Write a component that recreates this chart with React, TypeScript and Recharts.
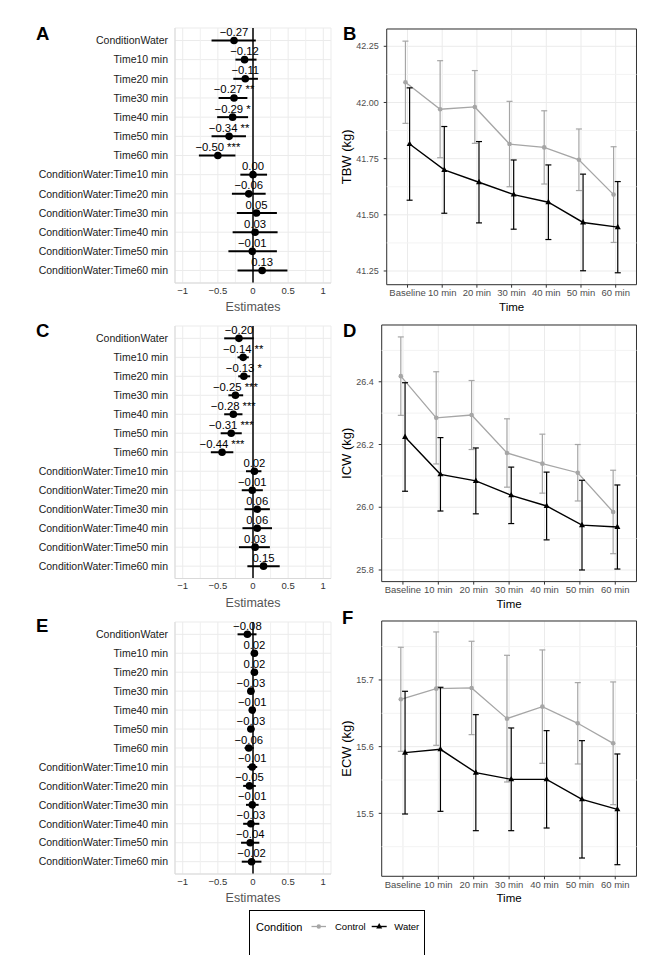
import React from "react";
import {
  ScatterChart,
  Scatter,
  LineChart,
  Line,
  XAxis,
  YAxis,
  CartesianGrid,
  ReferenceLine,
  ReferenceArea,
  ErrorBar,
  Label,
} from "recharts";

// model terms (forest plots A, C, E)
const terms = [
  "ConditionWater",
  "Time10 min",
  "Time20 min",
  "Time30 min",
  "Time40 min",
  "Time50 min",
  "Time60 min",
  "ConditionWater:Time10 min",
  "ConditionWater:Time20 min",
  "ConditionWater:Time30 min",
  "ConditionWater:Time40 min",
  "ConditionWater:Time50 min",
  "ConditionWater:Time60 min",
];

// A - TBW estimates
const tbwEst = [-0.27, -0.12, -0.11, -0.27, -0.29, -0.34, -0.5, 0.0, -0.06, 0.05, 0.03, -0.01, 0.13];
const tbwLow = [-0.59, -0.25, -0.28, -0.49, -0.51, -0.59, -0.77, -0.18, -0.3, -0.23, -0.29, -0.35, -0.22];
const tbwHigh = [0.04, 0.05, 0.07, -0.08, -0.07, -0.1, -0.25, 0.2, 0.18, 0.34, 0.35, 0.34, 0.49];
const tbwSig = ["", "", "", "**", "*", "**", "***", "", "", "", "", "", ""];

// C - ICW estimates
const icwEst = [-0.2, -0.14, -0.13, -0.25, -0.28, -0.31, -0.44, 0.02, -0.01, 0.06, 0.06, 0.03, 0.15];
const icwLow = [-0.41, -0.22, -0.21, -0.35, -0.41, -0.46, -0.6, -0.1, -0.16, -0.12, -0.15, -0.2, -0.08];
const icwHigh = [0.01, -0.06, -0.04, -0.14, -0.15, -0.16, -0.28, 0.12, 0.14, 0.24, 0.27, 0.24, 0.38];
const icwSig = ["", "**", "*", "***", "***", "***", "***", "", "", "", "", "", ""];

// E - ECW estimates
const ecwEst = [-0.08, 0.02, 0.02, -0.03, -0.01, -0.03, -0.06, -0.01, -0.05, -0.01, -0.03, -0.04, -0.02];
const ecwLow = [-0.22, -0.03, -0.03, -0.08, -0.06, -0.08, -0.12, -0.08, -0.14, -0.1, -0.14, -0.17, -0.16];
const ecwHigh = [0.05, 0.06, 0.07, 0.02, 0.04, 0.02, 0.01, 0.06, 0.04, 0.08, 0.09, 0.09, 0.12];
const ecwSig = ["", "", "", "", "", "", "", "", "", "", "", "", ""];

// time course (B, D, F)
const timeLabels = ["Baseline", "10 min", "20 min", "30 min", "40 min", "50 min", "60 min"];
const conditions = ["Control", "Water"];

const ctrlTBW = [42.09, 41.97, 41.98, 41.815, 41.8, 41.745, 41.59];
const ctrlTBWErr = [0.183, 0.216, 0.162, 0.19, 0.163, 0.137, 0.213];
const waterTBW = [41.815, 41.7, 41.645, 41.59, 41.556, 41.466, 41.445];
const waterTBWErr = [0.25, 0.193, 0.181, 0.154, 0.166, 0.215, 0.203];

const ctrlICW = [26.418, 26.285, 26.294, 26.173, 26.139, 26.11, 25.985];
const ctrlICWErr = [0.125, 0.147, 0.11, 0.109, 0.094, 0.09, 0.133];
const waterICW = [26.224, 26.105, 26.084, 26.038, 26.004, 25.943, 25.937];
const waterICWErr = [0.173, 0.117, 0.105, 0.09, 0.108, 0.143, 0.134];

const ctrlECW = [15.671, 15.687, 15.688, 15.642, 15.66, 15.635, 15.605];
const ctrlECWErr = [0.078, 0.085, 0.07, 0.095, 0.085, 0.061, 0.092];
const waterECW = [15.591, 15.596, 15.561, 15.551, 15.551, 15.521, 15.506];
const waterECWErr = [0.092, 0.093, 0.087, 0.077, 0.073, 0.088, 0.083];

const GRAY = "#A6A6A6";
const DODGE = 0.06;
const FONT = "'Liberation Sans', Arial, sans-serif";

const minus = (v: number, d: number) => (v < 0 ? "\u2212" : "") + Math.abs(v).toFixed(d);

function forestDot(p: any) {
  return (
    <g>
      <circle cx={p.cx} cy={p.cy} r={3.8} fill="#000" />
      <text x={p.cx} y={p.cy - 4.5} textAnchor="middle" fontSize={11.3} fill="#000">
        {p.payload.label}
      </text>
    </g>
  );
}

// plain text tick so the long term names don't wrap
function termTick(p: any) {
  return (
    <text x={p.x} y={p.y} dy="0.355em" textAnchor="end" fontSize={10.5} fill="#1A1A1A">
      {terms[p.payload.value]}
    </text>
  );
}

function ForestPlot({ est, low, high, sig, plotH }: any) {
  const data = terms.map((t, i) => ({
    row: i,
    est: est[i],
    err: [est[i] - low[i], high[i] - est[i]],
    label: minus(est[i], 2) + (sig[i] ? " " + sig[i] : ""),
  }));
  return (
    <ScatterChart width={340} height={28 + plotH + 30} margin={{ top: 28, right: 9, bottom: 0, left: 0 }}>
      <CartesianGrid stroke="#EBEBEB" />
      {[-0.75, -0.25, 0.25, 0.75].map((v) => (
        <ReferenceLine key={v} x={v} stroke="#F0F0F0" />
      ))}
      <XAxis
        type="number"
        dataKey="est"
        domain={[-1.11, 1.11]}
        allowDataOverflow
        ticks={[-1, -0.5, 0, 0.5, 1]}
        tickFormatter={(v: number) => (v < 0 ? "\u2212" + Math.abs(v) : String(v))}
        height={30}
        tickLine={false}
        tickSize={0}
        tickMargin={4}
        axisLine={{ stroke: "#D9D9D9" }}
        tick={{ fill: "#333", fontSize: 9.5 }}
      >
        <Label value="Estimates" position="insideBottom" offset={2} fill="#555" fontSize={12.5} />
      </XAxis>
      <YAxis
        type="number"
        dataKey="row"
        reversed
        domain={[-0.65, 12.65]}
        allowDataOverflow
        ticks={terms.map((t, i) => i)}
        interval={0}
        width={175}
        tickLine={false}
        tickSize={0}
        tickMargin={7}
        axisLine={{ stroke: "#D9D9D9" }}
        tick={termTick}
      />
      <ReferenceLine x={0} stroke="#000" strokeWidth={1.5} />
      <Scatter data={data} shape={forestDot} isAnimationActive={false}>
        <ErrorBar dataKey="err" direction="x" width={0} stroke="#000" strokeWidth={2} />
      </Scatter>
    </ScatterChart>
  );
}

function grayDot(p: any) {
  return <circle key={"c" + p.index} cx={p.cx} cy={p.cy} r={2.3} fill={GRAY} />;
}

function triDot(p: any) {
  const { cx, cy } = p;
  return (
    <polygon
      key={"t" + p.index}
      points={`${cx},${cy - 3.4} ${cx - 3},${cy + 2} ${cx + 3},${cy + 2}`}
      fill="#000"
    />
  );
}

function TimePlot({ ctrl, ctrlErr, water, waterErr, domain, ticks, minor, digits, yLabel, yWidth, plotH }: any) {
  const ctrlData = timeLabels.map((t, i) => ({ x: i - DODGE, y: ctrl[i], err: ctrlErr[i] }));
  const waterData = timeLabels.map((t, i) => ({ x: i + DODGE, y: water[i], err: waterErr[i] }));
  return (
    <LineChart width={317} height={29 + plotH + 28} margin={{ top: 29, right: 10.5, bottom: 0, left: 0 }}>
      <CartesianGrid stroke="#EBEBEB" />
      {minor.map((v: number) => (
        <ReferenceLine key={v} y={v} stroke="#F3F3F3" />
      ))}
      <XAxis
        type="number"
        dataKey="x"
        domain={[-0.6, 6.6]}
        allowDataOverflow
        ticks={timeLabels.map((t, i) => i)}
        interval={0}
        tickFormatter={(v: number) => timeLabels[v]}
        height={28}
        tickSize={3}
        tickMargin={2}
        axisLine={false}
        tickLine={{ stroke: "#333" }}
        tick={{ fill: "#4D4D4D", fontSize: 9.5 }}
      >
        <Label value="Time" position="insideBottom" offset={2} fill="#000" fontSize={11.5} />
      </XAxis>
      <YAxis
        type="number"
        domain={domain}
        allowDataOverflow
        ticks={ticks}
        interval={0}
        tickFormatter={(v: number) => v.toFixed(digits)}
        width={yWidth}
        tickSize={3}
        tickMargin={5}
        axisLine={false}
        tickLine={{ stroke: "#333" }}
        tick={{ fill: "#4D4D4D", fontSize: 9 }}
      >
        <Label
          value={yLabel}
          angle={-90}
          position="insideLeft"
          offset={16}
          fill="#000"
          fontSize={13}
          style={{ textAnchor: "middle" }}
        />
      </YAxis>
      <Line
        data={ctrlData}
        dataKey="y"
        stroke={GRAY}
        strokeWidth={1.3}
        dot={grayDot}
        isAnimationActive={false}
      >
        <ErrorBar dataKey="err" direction="y" width={3} stroke={GRAY} strokeWidth={1.2} />
      </Line>
      <Line
        data={waterData}
        dataKey="y"
        stroke="#000"
        strokeWidth={1.4}
        dot={triDot}
        isAnimationActive={false}
      >
        <ErrorBar dataKey="err" direction="y" width={3} stroke="#000" strokeWidth={1.2} />
      </Line>
      <ReferenceArea
        x1={-0.6}
        x2={6.6}
        y1={domain[0]}
        y2={domain[1]}
        fill="none"
        fillOpacity={0}
        stroke="#333"
        strokeWidth={1}
      />
    </LineChart>
  );
}

export default function App() {
  const letters = [
    { t: "A", x: 36, y: 40 },
    { t: "B", x: 343, y: 39.5 },
    { t: "C", x: 36, y: 337 },
    { t: "D", x: 343, y: 337 },
    { t: "E", x: 36, y: 632 },
    { t: "F", x: 342, y: 624 },
  ];
  return (
    <div
      style={{
        position: "absolute",
        left: 0,
        top: 0,
        width: 647,
        height: 955,
        background: "#fff",
        overflow: "hidden",
        fontFamily: FONT,
      }}
    >
      <div style={{ position: "absolute", left: 0, top: 0 }}>
        <ForestPlot est={tbwEst} low={tbwLow} high={tbwHigh} sig={tbwSig} plotH={255} />
      </div>
      <div style={{ position: "absolute", left: 0, top: 297.5 }}>
        <ForestPlot est={icwEst} low={icwLow} high={icwHigh} sig={icwSig} plotH={252.5} />
      </div>
      <div style={{ position: "absolute", left: 0, top: 593.5 }}>
        <ForestPlot est={ecwEst} low={ecwLow} high={ecwHigh} sig={ecwSig} plotH={252} />
      </div>

      <div style={{ position: "absolute", left: 330, top: 0.3 }}>
        <TimePlot
          ctrl={ctrlTBW}
          ctrlErr={ctrlTBWErr}
          water={waterTBW}
          waterErr={waterTBWErr}
          domain={[41.189, 42.327]}
          ticks={[41.25, 41.5, 41.75, 42.0, 42.25]}
          minor={[41.375, 41.625, 41.875, 42.125]}
          digits={2}
          yLabel="TBW (kg)"
          yWidth={56.7}
          plotH={255.7}
        />
      </div>
      <div style={{ position: "absolute", left: 330, top: 296 }}>
        <TimePlot
          ctrl={ctrlICW}
          ctrlErr={ctrlICWErr}
          water={waterICW}
          waterErr={waterICWErr}
          domain={[25.763, 26.581]}
          ticks={[25.8, 26.0, 26.2, 26.4]}
          minor={[25.9, 26.1, 26.3, 26.5]}
          digits={1}
          yLabel="ICW (kg)"
          yWidth={51.7}
          plotH={256.6}
        />
      </div>
      <div style={{ position: "absolute", left: 330, top: 591.7 }}>
        <TimePlot
          ctrl={ctrlECW}
          ctrlErr={ctrlECWErr}
          water={waterECW}
          waterErr={waterECWErr}
          domain={[15.4056, 15.7884]}
          ticks={[15.5, 15.6, 15.7]}
          minor={[15.45, 15.55, 15.65, 15.75]}
          digits={1}
          yLabel="ECW (kg)"
          yWidth={51.7}
          plotH={255.3}
        />
      </div>

      <svg
        width={647}
        height={955}
        style={{ position: "absolute", left: 0, top: 0, pointerEvents: "none" }}
      >
        {letters.map((l) => (
          <text key={l.t} x={l.x} y={l.y} fontSize={18.5} fontWeight="bold" fill="#000">
            {l.t}
          </text>
        ))}
        <rect x={249.5} y={910.5} width={175} height={60} fill="#fff" stroke="#000" strokeWidth={1} />
        <text x={256} y={930.5} fontSize={11} fill="#000">
          Condition
        </text>
        <line x1={311.5} x2={326} y1={926.5} y2={926.5} stroke={GRAY} strokeWidth={1.3} />
        <circle cx={318.8} cy={926.5} r={2.2} fill={GRAY} />
        <text x={335} y={930} fontSize={9.5} fill="#000">
          {conditions[0]}
        </text>
        <line x1={371.7} x2={386.7} y1={926.5} y2={926.5} stroke="#000" strokeWidth={1.4} />
        <polygon points="379.2,923.1 376.2,928.5 382.2,928.5" fill="#000" />
        <text x={394.3} y={930} fontSize={9.5} fill="#000">
          {conditions[1]}
        </text>
      </svg>
    </div>
  );
}
